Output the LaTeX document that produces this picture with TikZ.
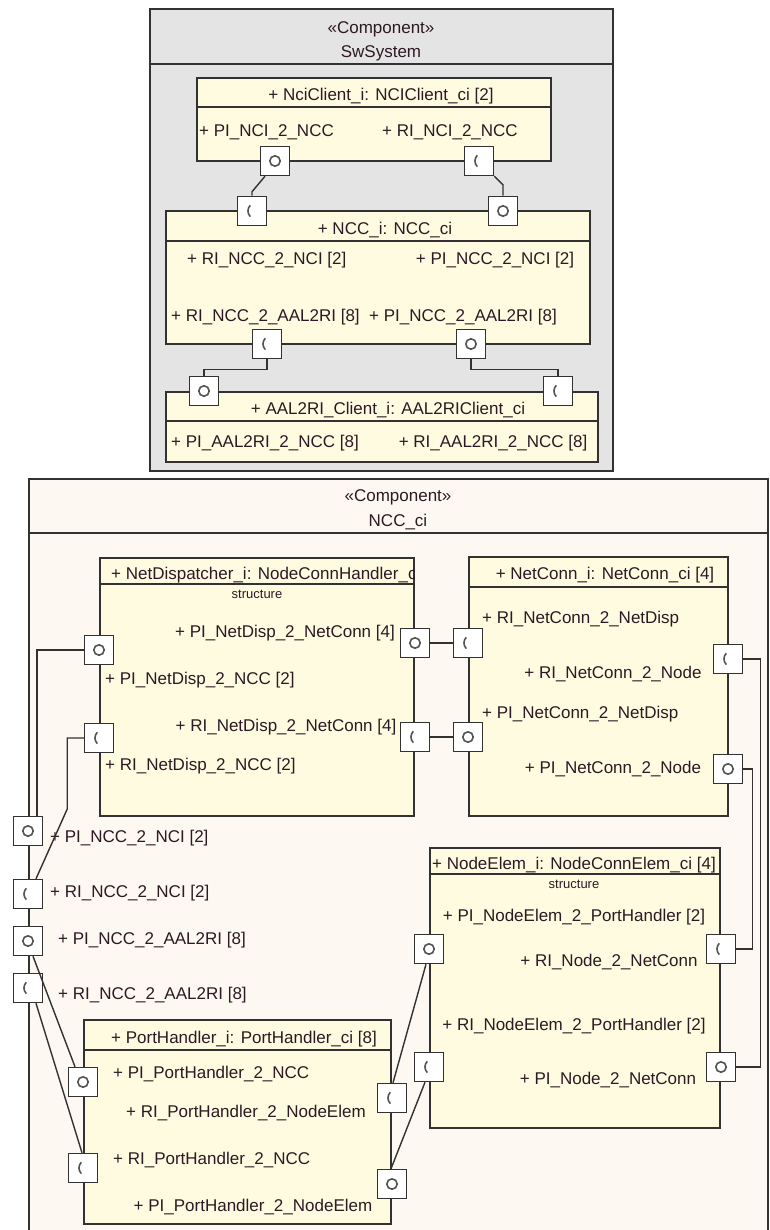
\documentclass[tikz,border=0pt]{standalone}
\usepackage{fontspec}
\setmainfont{Liberation Sans}
\usepackage{xcolor}
\usepackage{tikz}
\usetikzlibrary{positioning, calc}
\definecolor{SysColor}{RGB}{228,228,228}
\definecolor{CompColor}{RGB}{253,248,242}
\definecolor{PartColor}{RGB}{255,251,225}
\definecolor{EdgeColor}{RGB}{50,50,50}
\definecolor{GlyphColor}{RGB}{85,85,85}
\definecolor{TextColor}{RGB}{45,25,35}
\tikzset{
    box/.style={
        rectangle,
        anchor=north west,
        inner sep=0pt,
        outer sep=0pt,
        draw=EdgeColor,
        line width=1.8pt
    },
    sys/.style={box, fill=SysColor},
    comp/.style={box, fill=CompColor},
    part/.style={box, fill=PartColor},
    divider/.style={draw=EdgeColor, line width=1.8pt},
    lbl/.style={font=\fontsize{17}{20}\selectfont, text=TextColor, inner sep=0pt, text height=12.2pt, text depth=0pt},
    note/.style={lbl, font=\fontsize{13}{15}\selectfont, text height=9pt},
    port/.style={rectangle, minimum size=29pt, inner sep=0pt, draw=EdgeColor, fill=white, line width=1.5pt},
    prov/.style={port, path picture={
        \draw[GlyphColor, line width=1.6pt] (path picture bounding box.center) circle (5.2pt);}},
    req/.style={port, path picture={
        \draw[GlyphColor, line width=1.6pt] ([xshift=-1.7pt, yshift=5.7pt]path picture bounding box.center)
            arc[start angle=135, end angle=225, radius=8pt];}},
    wire/.style={draw=EdgeColor, line width=1.4pt}
}

\begin{document}
\begin{tikzpicture}[x=1pt, y=-1pt]

\useasboundingbox (0,0) rectangle (769,1230);
\clip (0,0) rectangle (769,1230);
\fill[white] (0,0) rectangle (769,1230);

% SwSystem
\node[sys, minimum width=463pt, minimum height=462pt] (n_sys) at (150,9) {};
\draw[divider] ([yshift=-55pt]n_sys.north west) -- ([yshift=-55pt]n_sys.north east);
\node[lbl] (t_sys_st) at (381,27) {«Component»};
\node[lbl] (t_sys) at (381,51) {SwSystem};

% NciClient
\node[part, minimum width=354pt, minimum height=83pt] (n_nci) at (197,78) {};
\draw[divider] ([yshift=-29pt]n_nci.north west) -- ([yshift=-29pt]n_nci.north east);
\node[lbl] (t_nci) at (381,94) {+ NciClient\_i: NCIClient\_ci [2]};
\node[lbl, anchor=west] (a_nci_pi) at (199,130) {+ PI\_NCI\_2\_NCC};
\node[lbl] (a_nci_ri) at (450,130) {+ RI\_NCI\_2\_NCC};

% NCC
\node[part, minimum width=424pt, minimum height=133pt] (n_ncci) at (166,211) {};
\draw[divider] ([yshift=-30pt]n_ncci.north west) -- ([yshift=-30pt]n_ncci.north east);
\node[lbl] (t_ncci) at (385,228) {+ NCC\_i: NCC\_ci};
\node[lbl, anchor=west] (a_ncci_ri_nci) at (187,258) {+ RI\_NCC\_2\_NCI [2]};
\node[lbl] (a_ncci_pi_nci) at (495,258) {+ PI\_NCC\_2\_NCI [2]};
\node[lbl, anchor=west] (a_ncci_ri_aal) at (171,315) {+ RI\_NCC\_2\_AAL2RI [8]};
\node[lbl] (a_ncci_pi_aal) at (463,315) {+ PI\_NCC\_2\_AAL2RI [8]};

% AAL2RI client
\node[part, minimum width=432pt, minimum height=70pt] (n_aal) at (166,392) {};
\draw[divider] ([yshift=-29pt]n_aal.north west) -- ([yshift=-29pt]n_aal.north east);
\node[lbl] (t_aal) at (388,408) {+ AAL2RI\_Client\_i: AAL2RIClient\_ci};
\node[lbl, anchor=west] (a_aal_pi) at (171,441) {+ PI\_AAL2RI\_2\_NCC [8]};
\node[lbl] (a_aal_ri) at (493,441) {+ RI\_AAL2RI\_2\_NCC [8]};

% NCC_ci
\node[comp, minimum width=739pt, minimum height=780pt] (n_ncc) at (29,479) {};
\draw[divider] ([yshift=-54pt]n_ncc.north west) -- ([yshift=-54pt]n_ncc.north east);
\node[lbl] (t_ncc_st) at (398,495) {«Component»};
\node[lbl] (t_ncc) at (398,520) {NCC\_ci};

% NetDispatcher
\node[part, minimum width=314pt, minimum height=258pt] (n_disp) at (100,558) {};
\draw[divider] ([yshift=-26pt]n_disp.north west) -- ([yshift=-26pt]n_disp.north east);
\begin{scope}
\clip (n_disp.north west) rectangle ([yshift=-26pt]n_disp.north east);
\node[lbl, anchor=west] (t_disp) at (111,573) {+ NetDispatcher\_i: NodeConnHandler\_ci};
\end{scope}
\node[note] (s_disp) at (257,594) {structure};
\node[lbl] (a_disp_pi_net) at (285,631) {+ PI\_NetDisp\_2\_NetConn [4]};
\node[lbl, anchor=west] (a_disp_pi_ncc) at (105,678) {+ PI\_NetDisp\_2\_NCC [2]};
\node[lbl] (a_disp_ri_net) at (286,725) {+ RI\_NetDisp\_2\_NetConn [4]};
\node[lbl, anchor=west] (a_disp_ri_ncc) at (105,764) {+ RI\_NetDisp\_2\_NCC [2]};

% NetConn
\node[part, minimum width=259pt, minimum height=259pt] (n_net) at (469,557) {};
\draw[divider] ([yshift=-30pt]n_net.north west) -- ([yshift=-30pt]n_net.north east);
\node[lbl] (t_net) at (605,573) {+ NetConn\_i: NetConn\_ci [4]};
\node[lbl, anchor=west] (a_net_ri_disp) at (482,617) {+ RI\_NetConn\_2\_NetDisp};
\node[lbl] (a_net_ri_node) at (613,672) {+ RI\_NetConn\_2\_Node};
\node[lbl, anchor=west] (a_net_pi_disp) at (482,712) {+ PI\_NetConn\_2\_NetDisp};
\node[lbl] (a_net_pi_node) at (613,767) {+ PI\_NetConn\_2\_Node};

% NodeElem
\node[part, minimum width=290pt, minimum height=280pt] (n_elem) at (430,848) {};
\draw[divider] ([yshift=-26pt]n_elem.north west) -- ([yshift=-26pt]n_elem.north east);
\node[lbl, anchor=east] (t_elem) at (716,863) {+ NodeElem\_i: NodeConnElem\_ci [4]};
\node[note] (s_elem) at (574,884) {structure};
\node[lbl] (a_elem_pi_port) at (574,915) {+ PI\_NodeElem\_2\_PortHandler [2]};
\node[lbl] (a_elem_ri_net) at (609,960) {+ RI\_Node\_2\_NetConn};
\node[lbl] (a_elem_ri_port) at (574,1024) {+ RI\_NodeElem\_2\_PortHandler [2]};
\node[lbl] (a_elem_pi_net) at (608,1078) {+ PI\_Node\_2\_NetConn};

% PortHandler
\node[part, minimum width=307pt, minimum height=204pt] (n_port) at (84,1020) {};
\draw[divider] ([yshift=-30pt]n_port.north west) -- ([yshift=-30pt]n_port.north east);
\node[lbl] (t_port) at (244,1037) {+ PortHandler\_i: PortHandler\_ci [8]};
\node[lbl, anchor=west] (a_port_pi_ncc) at (113,1072) {+ PI\_PortHandler\_2\_NCC};
\node[lbl] (a_port_ri_elem) at (246,1111) {+ RI\_PortHandler\_2\_NodeElem};
\node[lbl, anchor=west] (a_port_ri_ncc) at (113,1158) {+ RI\_PortHandler\_2\_NCC};
\node[lbl] (a_port_pi_elem) at (253,1205) {+ PI\_PortHandler\_2\_NodeElem};

% Boundary port labels
\node[lbl, anchor=west] (a_ncc_pi_nci) at (50,836) {+ PI\_NCC\_2\_NCI [2]};
\node[lbl, anchor=west] (a_ncc_ri_nci) at (50,891) {+ RI\_NCC\_2\_NCI [2]};
\node[lbl, anchor=west] (a_ncc_pi_aal) at (58,938) {+ PI\_NCC\_2\_AAL2RI [8]};
\node[lbl, anchor=west] (a_ncc_ri_aal) at (58,993) {+ RI\_NCC\_2\_AAL2RI [8]};

% Ports
\node[prov] (p_nci_pi) at (275,161) {};
\node[req] (p_nci_ri) at (479,161) {};
\node[req] (p_ncci_ri_nci) at (252,211) {};
\node[prov] (p_ncci_pi_nci) at (503,211) {};
\node[req] (p_ncci_ri_aal) at (267,344) {};
\node[prov] (p_ncci_pi_aal) at (471,344) {};
\node[prov] (p_aal_pi) at (204,391) {};
\node[req] (p_aal_ri) at (558,391) {};

\node[prov] (p_disp_pi_ncc) at (99,650) {};
\node[req] (p_disp_ri_ncc) at (99,738) {};
\node[prov] (p_disp_pi_net) at (415,643) {};
\node[req] (p_disp_ri_net) at (415,737) {};
\node[req] (p_net_ri_disp) at (468,643) {};
\node[prov] (p_net_pi_disp) at (468,737) {};
\node[req] (p_net_ri_node) at (728,659) {};
\node[prov] (p_net_pi_node) at (728,769) {};
\node[prov] (p_elem_pi_port) at (429,949) {};
\node[req] (p_elem_ri_port) at (429,1067) {};
\node[req] (p_elem_ri_net) at (721,949) {};
\node[prov] (p_elem_pi_net) at (721,1067) {};
\node[prov] (p_port_pi_ncc) at (83,1082) {};
\node[req] (p_port_ri_ncc) at (83,1168) {};
\node[req] (p_port_ri_elem) at (392,1098) {};
\node[prov] (p_port_pi_elem) at (392,1184) {};
\node[prov] (p_ncc_pi_nci) at (28,831) {};
\node[req] (p_ncc_ri_nci) at (28,894) {};
\node[prov] (p_ncc_pi_aal) at (28,941) {};
\node[req] (p_ncc_ri_aal) at (28,988) {};

% Connectors
\draw[wire] ([xshift=-10pt]p_nci_pi.south) -- ([yshift=4pt]p_ncci_ri_nci.north) -- (p_ncci_ri_nci.north);
\draw[wire] (p_nci_ri.south east) -- ([yshift=11pt]p_ncci_pi_nci.north) -- (p_ncci_pi_nci.north);
\draw[wire] (p_ncci_ri_aal.south) -- ++(0,10) -| (p_aal_pi.north);
\draw[wire] (p_ncci_pi_aal.south) -- ++(0,10) -| (p_aal_ri.north);

\draw[wire] (p_disp_pi_net) -- (p_net_ri_disp);
\draw[wire] (p_disp_ri_net) -- (p_net_pi_disp);
\draw[wire] (p_net_ri_node.east) -- ++(17.5,0) |- (p_elem_pi_net.east);
\draw[wire] (p_net_pi_node.east) -- ++(9.5,0) |- (p_elem_ri_net.east);
\draw[wire] (p_disp_pi_ncc.west) -| ([xshift=9pt]p_ncc_pi_nci.north);
\draw[wire] (p_disp_ri_ncc.west) -- ++(-16.5,0) -- ++(0,71) -- ([xshift=8pt]p_ncc_ri_nci.north);
\draw[wire] ([xshift=5pt]p_ncc_pi_aal.south) -- ([xshift=-8pt]p_port_pi_ncc.north);
\draw[wire] ([xshift=8pt]p_ncc_ri_aal.south) -- ([xshift=-1pt]p_port_ri_ncc.north);
\draw[wire] ([xshift=-3pt]p_elem_pi_port.south) -- ([xshift=1pt]p_port_ri_elem.north);
\draw[wire] ([xshift=-4pt]p_elem_ri_port.south) -- ([xshift=-1pt]p_port_pi_elem.north);

\end{tikzpicture}
\end{document}
